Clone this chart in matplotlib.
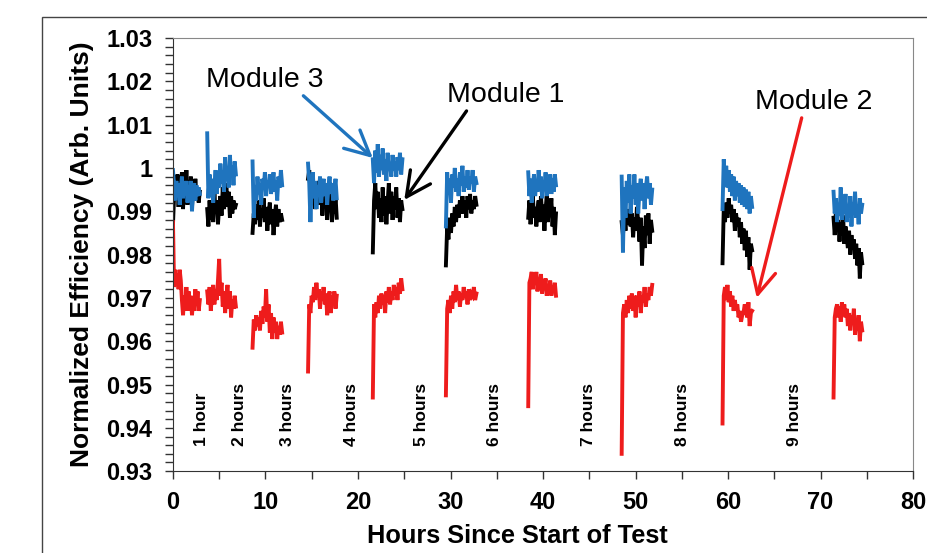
import numpy as np
import matplotlib
matplotlib.use("Agg")
import matplotlib.pyplot as plt
import matplotlib.patches as mpatches
from matplotlib.ticker import MultipleLocator, FuncFormatter

plt.rcParams["font.family"] = ["Liberation Sans", "DejaVu Sans"]

# test windows (hours since start)
SEG_START = [0.0, 3.7, 8.6, 14.6, 21.6, 29.5, 38.4, 48.5, 59.4, 71.4]
SEG_END = [2.9, 6.8, 11.8, 17.7, 24.8, 32.8, 41.4, 51.8, 62.6, 74.5]

# Module 3 (blue)
module3 = [
    [0.9995, 0.996, 0.9925, 0.997, 0.994, 0.9965, 0.9915, 0.995, 0.998, 0.993, 0.9965, 0.9945, 0.997, 0.992, 0.9955, 0.9935, 0.997, 0.990, 0.9945, 0.9965, 0.9925, 0.996, 0.9935, 0.9955, 0.994],
    [1.008, 0.993, 0.9985, 0.9935, 0.9975, 0.992, 0.996, 0.9995, 0.994, 0.998, 0.9955, 1.001, 0.9965, 0.999, 0.9945, 1.0025, 0.997, 1.0, 0.9955, 1.003, 0.998, 1.0005, 0.996, 1.0015, 0.9985],
    [1.0015, 0.9885, 0.996, 0.9925, 0.998, 0.994, 0.9965, 0.9915, 0.9975, 0.995, 0.999, 0.9935, 0.997, 0.9955, 0.9985, 0.994, 0.9965, 0.999, 0.9945, 0.997, 0.9925, 0.998, 0.9955, 0.9995, 0.996],
    [1.001, 0.9965, 0.9875, 0.9955, 0.999, 0.993, 0.997, 0.9905, 0.996, 0.9935, 0.998, 0.992, 0.9955, 0.9975, 0.9935, 0.9965, 0.9915, 0.9955, 0.998, 0.994, 0.9965, 0.9925, 0.995, 0.9975, 0.993],
    [1.002, 0.9965, 1.004, 0.999, 1.0055, 0.998, 1.003, 0.9995, 1.0045, 0.9985, 1.002, 0.997, 1.0035, 0.9995, 1.001, 0.998, 1.003, 0.9995, 1.0015, 0.998, 1.0025, 0.9995, 1.0035, 0.9985, 1.002],
    [0.9865, 0.999, 0.994, 0.9975, 0.992, 0.9985, 0.9955, 1.0, 0.9945, 0.9975, 0.9935, 0.999, 0.996, 1.0005, 0.9945, 0.998, 0.9955, 0.9995, 0.995, 0.998, 0.9965, 0.9995, 0.9945, 0.998, 0.9965],
    [0.999, 0.9935, 0.9975, 0.992, 0.996, 0.9985, 0.9935, 0.997, 0.9945, 0.9995, 0.9955, 0.998, 0.993, 0.997, 0.995, 0.999, 0.9935, 0.9975, 0.9955, 0.9985, 0.994, 0.9975, 0.9945, 0.9985, 0.996],
    [0.998, 0.9805, 0.9955, 0.9885, 0.997, 0.992, 0.9985, 0.9895, 0.996, 0.993, 0.9985, 0.9915, 0.9965, 0.9895, 0.995, 0.9975, 0.9925, 0.9965, 0.9905, 0.9955, 0.998, 0.993, 0.9965, 0.9915, 0.995],
    [0.9905, 1.002, 0.9965, 1.0005, 0.9955, 0.9995, 0.9945, 0.9985, 0.9935, 0.998, 0.9925, 0.997, 0.9935, 0.9965, 0.992, 0.996, 0.9915, 0.9955, 0.991, 0.995, 0.9905, 0.9945, 0.9895, 0.9935, 0.991],
    [0.9945, 0.9895, 0.993, 0.9875, 0.9915, 0.989, 0.9955, 0.988, 0.9925, 0.9895, 0.994, 0.9875, 0.9915, 0.9885, 0.9935, 0.9865, 0.992, 0.9895, 0.9945, 0.9885, 0.9915, 0.987, 0.993, 0.9895, 0.9915],
]

# Module 1 (black)
module1 = [
    [0.987, 0.9935, 0.9965, 0.9925, 0.9985, 0.991, 0.997, 0.9945, 0.999, 0.9905, 0.9965, 0.993, 0.9995, 0.9915, 0.996, 0.9935, 0.998, 0.991, 0.995, 0.9925, 0.9975, 0.9935, 0.9955, 0.992, 0.9945],
    [0.9905, 0.9865, 0.9925, 0.988, 0.9915, 0.9875, 0.994, 0.9895, 0.9925, 0.987, 0.991, 0.9935, 0.989, 0.9955, 0.9905, 0.9935, 0.9965, 0.991, 0.9945, 0.9885, 0.9935, 0.9895, 0.9925, 0.9905, 0.9915],
    [0.985, 0.9895, 0.987, 0.9915, 0.988, 0.9925, 0.9865, 0.9905, 0.9885, 0.993, 0.9875, 0.991, 0.9855, 0.9895, 0.992, 0.987, 0.9905, 0.9845, 0.989, 0.9915, 0.9865, 0.9905, 0.9875, 0.9895, 0.988],
    [0.9975, 0.9995, 0.994, 0.998, 0.9925, 0.9965, 0.9905, 0.995, 0.9935, 0.997, 0.9915, 0.995, 0.989, 0.9935, 0.9915, 0.9955, 0.988, 0.9925, 0.9905, 0.9945, 0.9875, 0.9915, 0.9895, 0.9935, 0.9885],
    [0.9805, 0.9925, 0.9965, 0.9905, 0.9945, 0.9885, 0.993, 0.9875, 0.9955, 0.989, 0.9935, 0.987, 0.992, 0.9965, 0.9895, 0.9945, 0.988, 0.9935, 0.9905, 0.9955, 0.9885, 0.993, 0.9875, 0.9925, 0.9905],
    [0.9775, 0.9865, 0.9835, 0.9885, 0.985, 0.9895, 0.9865, 0.991, 0.9875, 0.9915, 0.9885, 0.9925, 0.9895, 0.9935, 0.9895, 0.9925, 0.9885, 0.9935, 0.9905, 0.994, 0.9895, 0.9925, 0.9905, 0.9935, 0.9915],
    [0.9885, 0.9925, 0.987, 0.9905, 0.9935, 0.9885, 0.991, 0.9865, 0.9905, 0.9925, 0.9875, 0.9935, 0.9895, 0.9915, 0.9855, 0.9905, 0.9935, 0.9875, 0.9915, 0.9895, 0.993, 0.9865, 0.991, 0.9845, 0.9895],
    [0.9875, 0.9845, 0.9885, 0.9855, 0.99, 0.987, 0.9905, 0.9865, 0.9895, 0.984, 0.9885, 0.9855, 0.991, 0.9875, 0.983, 0.9885, 0.9775, 0.9865, 0.9815, 0.989, 0.9845, 0.9895, 0.9825, 0.988, 0.9855],
    [0.978, 0.9905, 0.9875, 0.992, 0.9885, 0.993, 0.9895, 0.9915, 0.9875, 0.9905, 0.9855, 0.9895, 0.9865, 0.9885, 0.984, 0.9875, 0.9825, 0.986, 0.981, 0.9855, 0.9795, 0.984, 0.9765, 0.9825, 0.981],
    [0.9885, 0.9845, 0.99, 0.9855, 0.988, 0.983, 0.9875, 0.9845, 0.989, 0.9825, 0.9865, 0.984, 0.9815, 0.9855, 0.98, 0.9845, 0.9815, 0.9835, 0.979, 0.9825, 0.9775, 0.9815, 0.9745, 0.9805, 0.978],
]

# Module 2 (red)
module2 = [
    [0.9875, 0.9725, 0.9765, 0.9735, 0.9755, 0.972, 0.9765, 0.974, 0.9695, 0.966, 0.9705, 0.968, 0.9725, 0.967, 0.9715, 0.9685, 0.9705, 0.966, 0.9695, 0.967, 0.972, 0.9685, 0.9715, 0.967, 0.9695],
    [0.9715, 0.9685, 0.9725, 0.967, 0.9705, 0.973, 0.9685, 0.972, 0.9695, 0.974, 0.979, 0.9705, 0.9735, 0.968, 0.9715, 0.9665, 0.9705, 0.973, 0.9675, 0.9715, 0.9655, 0.9695, 0.9675, 0.9705, 0.968],
    [0.9585, 0.965, 0.9625, 0.966, 0.9635, 0.9655, 0.9625, 0.967, 0.964, 0.968, 0.9655, 0.972, 0.9645, 0.9685, 0.962, 0.9665, 0.9605, 0.9655, 0.962, 0.9645, 0.9605, 0.9635, 0.9615, 0.9645, 0.962],
    [0.953, 0.9685, 0.9665, 0.9705, 0.969, 0.9725, 0.9695, 0.9735, 0.9705, 0.972, 0.9675, 0.9715, 0.9695, 0.9725, 0.9685, 0.971, 0.966, 0.9695, 0.9715, 0.9665, 0.9705, 0.9685, 0.9715, 0.9675, 0.9705],
    [0.947, 0.9685, 0.9655, 0.969, 0.9665, 0.9705, 0.9675, 0.971, 0.9685, 0.9705, 0.9665, 0.9715, 0.969, 0.9725, 0.9685, 0.9715, 0.9695, 0.973, 0.9705, 0.9725, 0.9695, 0.9735, 0.971, 0.9745, 0.972],
    [0.9475, 0.9675, 0.9695, 0.9665, 0.9705, 0.9675, 0.9715, 0.969, 0.973, 0.9695, 0.9715, 0.968, 0.971, 0.9695, 0.9725, 0.97, 0.9715, 0.9685, 0.972, 0.9695, 0.971, 0.9705, 0.9725, 0.9695, 0.971],
    [0.945, 0.9735, 0.9745, 0.976, 0.972, 0.9755, 0.9735, 0.976, 0.9715, 0.9745, 0.973, 0.9755, 0.971, 0.9735, 0.9725, 0.9745, 0.9705, 0.973, 0.9715, 0.974, 0.9705, 0.9725, 0.9715, 0.9735, 0.9705],
    [0.934, 0.9665, 0.9685, 0.9655, 0.9695, 0.9665, 0.9705, 0.9675, 0.971, 0.967, 0.9705, 0.9655, 0.9705, 0.968, 0.9715, 0.9665, 0.9705, 0.969, 0.9725, 0.968, 0.971, 0.9695, 0.9725, 0.9705, 0.973],
    [0.941, 0.9705, 0.9725, 0.9695, 0.973, 0.969, 0.9715, 0.968, 0.9705, 0.967, 0.9695, 0.9675, 0.9685, 0.9655, 0.967, 0.9645, 0.966, 0.9665, 0.9685, 0.9675, 0.9655, 0.969, 0.9635, 0.9665, 0.967],
    [0.947, 0.9655, 0.9675, 0.9685, 0.9655, 0.968, 0.9645, 0.969, 0.966, 0.9685, 0.9655, 0.9675, 0.9635, 0.9665, 0.9625, 0.966, 0.964, 0.9675, 0.9615, 0.965, 0.9625, 0.966, 0.96, 0.9645, 0.9625],
]

GAP_LABELS = ["1 hour", "2 hours", "3 hours", "4 hours", "5 hours",
              "6 hours", "7 hours", "8 hours", "9 hours"]
GAP_X = [3.1, 7.2, 12.4, 19.3, 26.9, 34.8, 44.9, 55.1, 67.2]

BLUE = "#1F74BE"
RED = "#EE1C1C"


def draw_series(ax, segments, color):
    for start, end, vals in zip(SEG_START, SEG_END, segments):
        t = np.linspace(start, end, len(vals))
        ax.plot(t, vals, color=color, lw=2.8, solid_joinstyle="miter")


fig = plt.figure(figsize=(9.27, 5.53), dpi=100)
ax = fig.add_axes([0.1866, 0.148, 0.7984, 0.7833])

# outer chart-area frame (cropped by the picture edge)
fig.patches.append(mpatches.Rectangle(
    (0.0453, -0.2), 1.5, 1.169, transform=fig.transFigure,
    fill=False, edgecolor="#444444", lw=1.0))

draw_series(ax, module1, "black")
draw_series(ax, module3, BLUE)
draw_series(ax, module2, RED)

for lbl, x in zip(GAP_LABELS, GAP_X):
    ax.text(x, 0.9358, lbl, rotation=90, ha="center", va="bottom",
            fontsize=12.5, fontweight="bold")

# module call-outs
arrow = dict(arrowstyle="->,head_length=0.8,head_width=0.4", lw=2.4,
             shrinkA=0, shrinkB=0, mutation_scale=22)
ax.annotate("Module 3", xy=(21.6, 1.0023), xytext=(9.95, 1.0203),
            ha="center", va="center", fontsize=20.5,
            arrowprops=dict(arrow, color=BLUE, relpos=(0.8, 0.0)))
ax.annotate("Module 1", xy=(25.0, 0.9926), xytext=(36.0, 1.0168),
            ha="center", va="center", fontsize=20.5,
            arrowprops=dict(arrow, color="black", relpos=(0.18, 0.0)))
ax.annotate("Module 2", xy=(63.1, 0.970), xytext=(69.3, 1.0152),
            ha="center", va="center", fontsize=20.5,
            arrowprops=dict(arrow, color=RED, relpos=(0.4, 0.0)))

ax.set_xlim(0, 80)
ax.set_ylim(0.93, 1.03)
ax.xaxis.set_major_locator(MultipleLocator(10))
ax.xaxis.set_minor_locator(MultipleLocator(5))
ax.yaxis.set_major_locator(MultipleLocator(0.01))
ax.yaxis.set_minor_locator(MultipleLocator(0.002))
ax.yaxis.set_major_formatter(FuncFormatter(lambda v, p: f"{round(v, 3):g}"))
ax.tick_params(which="both", direction="out", length=6, width=1, color="#333333")
ax.tick_params(axis="y", labelsize=17, pad=9)
ax.tick_params(axis="x", labelsize=17, pad=8)
for lab in ax.get_xticklabels() + ax.get_yticklabels():
    lab.set_fontweight("bold")

for side in ("top", "right"):
    ax.spines[side].set_color("#888888")
for side in ("left", "bottom"):
    ax.spines[side].set_color("#333333")

ax.set_xlabel("Hours Since Start of Test", fontsize=18.3, fontweight="bold")
ax.xaxis.set_label_coords(0.465, -0.123)
ax.set_ylabel("Normalized Efficiency (Arb. Units)", fontsize=19, fontweight="bold")
ax.yaxis.set_label_coords(-0.107, 0.5)

fig.savefig("out.png", dpi=100)
